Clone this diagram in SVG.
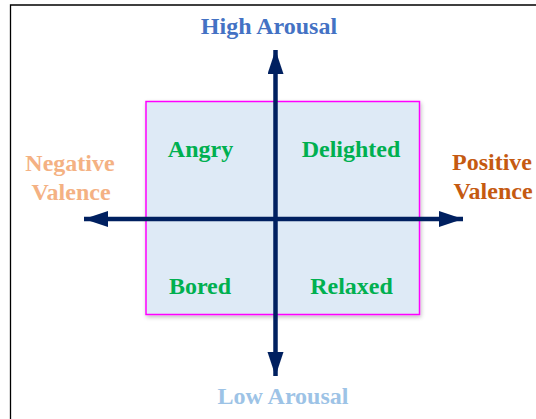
<svg xmlns="http://www.w3.org/2000/svg" width="536" height="419" viewBox="0 0 536 419">
<style>
.lbl{font-family:"Liberation Serif","Times New Roman",serif;font-weight:bold;font-size:24px;text-anchor:middle}
.q{fill:#00B050}
.axis{stroke:#002060;stroke-width:4.5;fill:none}
</style>
<defs>
<marker id="ah" markerUnits="userSpaceOnUse" markerWidth="26" markerHeight="18" refX="24" refY="8" orient="auto">
<polygon points="0,0 24,8 0,16" fill="#002060"/>
</marker>
<filter id="sh" x="-5%" y="-5%" width="115%" height="115%">
<feGaussianBlur in="SourceAlpha" stdDeviation="2"/>
<feOffset dx="1" dy="2"/>
<feComponentTransfer><feFuncA type="linear" slope="0.25"/></feComponentTransfer>
<feMerge><feMergeNode/><feMergeNode in="SourceGraphic"/></feMerge>
</filter>
</defs>
<rect width="536" height="419" fill="#fff"/>
<path d="M10.5,419 V5 H536" fill="none" stroke="#000" stroke-width="1.3"/>
<g id="quadrant-box">
<rect x="146" y="101.5" width="273.5" height="213" fill="#DEEAF6" stroke="#FF00FF" stroke-width="1.5" filter="url(#sh)"/>
</g>
<g id="connectors">
<line class="axis" x1="275.5" y1="219" x2="275.5" y2="50" marker-end="url(#ah)"/>
<line class="axis" x1="275.5" y1="219" x2="275.5" y2="376" marker-end="url(#ah)"/>
<line class="axis" x1="275.5" y1="219" x2="84" y2="219" marker-end="url(#ah)"/>
<line class="axis" x1="275.5" y1="219" x2="463" y2="219" marker-end="url(#ah)"/>
</g>
<g id="high-arousal"><text class="lbl" x="269" y="34" fill="#4472C4">High Arousal</text></g>
<g id="low-arousal"><text class="lbl" x="283" y="404" fill="#9DC3E6">Low Arousal</text></g>
<g id="negative-valence"><text class="lbl" x="70" y="171" fill="#F4B183">Negative<tspan x="71" dy="29">Valence</tspan></text></g>
<g id="positive-valence"><text class="lbl" x="492" y="170" fill="#C55A11">Positive<tspan x="493" dy="28.5">Valence</tspan></text></g>
<g id="angry"><text class="lbl q" x="200.5" y="157">Angry</text></g>
<g id="delighted"><text class="lbl q" x="351" y="157">Delighted</text></g>
<g id="bored"><text class="lbl q" x="200" y="294">Bored</text></g>
<g id="relaxed"><text class="lbl q" x="351.5" y="294">Relaxed</text></g>
</svg>
